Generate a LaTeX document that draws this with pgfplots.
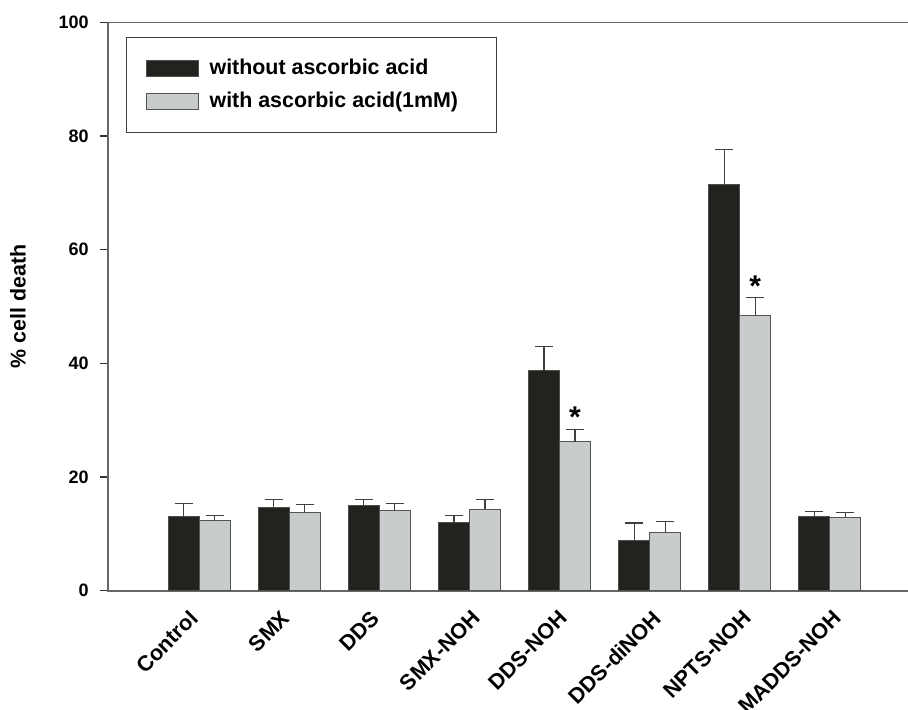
\documentclass[border=0pt]{standalone}
\usepackage{fontspec}
\setmainfont{Liberation Sans}
\usepackage{pgfplots}
\pgfplotsset{compat=1.18}
\definecolor{barblack}{HTML}{22221E}
\definecolor{bargray}{HTML}{C8CCCC}
\definecolor{edgegray}{HTML}{555555}
\begin{document}
\begin{tikzpicture}
\begin{axis}[
  at={(0,0)}, anchor=south west,
  scale only axis, width=411pt, height=284.2pt,
  xmin=-1.01, xmax=8.11, ymin=0, ymax=100,
  ybar=0pt, bar width=15.5pt,
  ytick={0,20,40,60,80,100},
  xtick={-0.03,0.99,1.99,3.10,4.07,5.11,6.11,7.11},
  xticklabels={Control,SMX,DDS,SMX-NOH,DDS-NOH,DDS-diNOH,NPTS-NOH,MADDS-NOH},
  xtick style={draw=none},
  ytick align=outside,
  ytick style={black!80, line width=0.6pt},
  major tick length=4pt,
  /pgf/number format/assume math mode=true,
  yticklabel style={font=\bfseries\fontsize{9}{10}\selectfont, inner sep=0pt, xshift=-5.5pt},
  xticklabel style={font=\bfseries\fontsize{10.8}{13}\selectfont, xshift=-4pt, yshift=-5pt, rotate=45, anchor=north east, inner sep=0pt},
  axis line style={black!60, line width=0.8pt},
  ylabel={\% cell death},
  ylabel style={font=\bfseries\fontsize{10.7}{12}\selectfont, at={(axis description cs:-0.1095,0.5)}, anchor=center},
  legend style={at={(axis description cs:0,1)}, anchor=north west, xshift=9pt, yshift=-7.2pt,
    draw=black!75, line width=0.6pt, inner xsep=9.5pt, inner ysep=9pt,
    font=\bfseries\fontsize{10.7}{12}\selectfont, row sep=3pt,
    nodes={inner sep=2pt},
    /tikz/every odd column/.append style={column sep=3.5pt}},
  legend cell align=left,
  legend image code/.code={\draw[#1, line width=0.5pt] (0pt,-4pt) rectangle (26pt,4pt);},
  error bars/error bar style={line width=0.6pt, draw=black!75},
  error bars/error mark options={rotate=90, mark size=4.5pt, line width=0.6pt, draw=black!75},
  clip=false,
]
\addplot+[fill=barblack, draw=barblack!80, line width=0.5pt,
  error bars/.cd, y dir=plus, y explicit]
  coordinates {
  (0,13.0) +- (0,2.4)
  (1,14.7) +- (0,1.3)
  (2,15.0) +- (0,1.1)
  (3,12.0) +- (0,1.2)
  (4,38.7) +- (0,4.3)
  (5,8.8)  +- (0,3.1)
  (6,71.4) +- (0,6.2)
  (7,13.0) +- (0,1.0)
  };
\addplot+[fill=bargray, draw=edgegray, line width=0.5pt,
  error bars/.cd, y dir=plus, y explicit]
  coordinates {
  (0,12.3) +- (0,0.9)
  (1,13.7) +- (0,1.5)
  (2,14.1) +- (0,1.3)
  (3,14.3) +- (0,1.8)
  (4,26.2) +- (0,2.2)
  (5,10.2) +- (0,2.0)
  (6,48.5) +- (0,3.1)
  (7,12.8) +- (0,0.9)
  };
\legend{without ascorbic acid, with ascorbic acid(1mM)\hspace*{7.5pt}}
\node[font=\bfseries\fontsize{15}{15}\selectfont] at ([xshift=7.75pt]axis cs:4,30.5) {*};
\node[font=\bfseries\fontsize{15}{15}\selectfont] at ([xshift=7.75pt]axis cs:6,53.6) {*};
\end{axis}
\pgfresetboundingbox
\path[use as bounding box] (-54pt,-59.15pt) rectangle (400pt,295.35pt);
\end{tikzpicture}
\end{document}
